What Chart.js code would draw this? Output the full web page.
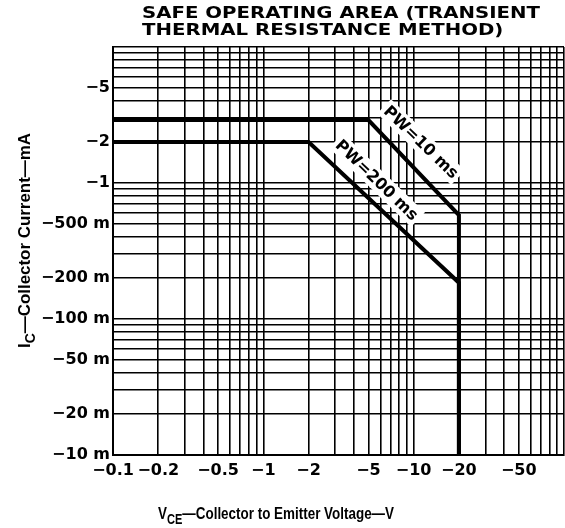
<!DOCTYPE html>
<html>
<head>
<meta charset="utf-8">
<title>Safe Operating Area</title>
<script src="https://cdn.jsdelivr.net/npm/chart.js@4"></script>
<style>
  body { margin: 0; background: #fff; }
  canvas { display: block; }
</style>
</head>
<body>
<canvas id="soaChart" width="565" height="528"></canvas>
<script>
// values are magnitudes (V and A), the minus signs only live in the tick labels
const pw10Volts = [0.1, 5, 20, 20];
const pw10Amps = [2.9, 2.9, 0.58, 0.01];

const pw200Volts = [0.1, 2, 20, 20];
const pw200Amps = [2, 2, 0.185, 0.01];

// grid lines of the log paper
const xGridValues = [0.1, 0.2, 0.3, 0.4, 0.5, 0.6, 0.7, 0.8, 0.9,
                     1, 2, 3, 4, 5, 6, 7, 8, 9,
                     10, 20, 30, 40, 50, 60, 70, 80, 90, 100];
const yGridValues = [0.01, 0.02, 0.03, 0.04, 0.05, 0.06, 0.07, 0.08, 0.09,
                     0.1, 0.2, 0.3, 0.4, 0.5, 0.6, 0.7, 0.8, 0.9,
                     1, 2, 3, 4, 5, 6, 7, 8, 9, 10];

// labelled ticks
const xLabelValues = [0.1, 0.2, 0.5, 1, 2, 5, 10, 20, 50];
const xLabelText = ['\u22120.1', '\u22120.2', '\u22120.5', '\u22121', '\u22122', '\u22125', '\u221210', '\u221220', '\u221250'];
const yLabelValues = [0.01, 0.02, 0.05, 0.1, 0.2, 0.5, 1, 2, 5];
const yLabelText = ['\u221210 m', '\u221220 m', '\u221250 m', '\u2212100 m', '\u2212200 m', '\u2212500 m', '\u22121', '\u22122', '\u22125'];

// where the curve names sit (data units)
const pw10LabelAt = { x: 11.2, y: 2.0 };
const pw200LabelAt = { x: 5.7, y: 1.05 };

const ink = '#000';
const fontFamily = '"DejaVu Sans", "Liberation Sans", sans-serif';
const titleFamily = '"Liberation Sans", Arial, sans-serif';

function findLabel(values, texts, v) {
    const i = values.findIndex(l => Math.abs(l - v) / l < 1e-6);
    return i >= 0 ? texts[i] : '';
}

function toPoints(xs, ys) {
    return xs.map((v, i) => ({ x: v, y: ys[i] }));
}

// draws a run of text pieces (some subscripted) fitted to a given width
function drawRich(ctx, parts, size, targetWidth) {
    const mainFont = 'bold ' + size + 'px ' + titleFamily;
    const subFont = 'bold ' + Math.round(size * 0.8) + 'px ' + titleFamily;
    let total = 0;
    parts.forEach(p => {
        ctx.font = p.sub ? subFont : mainFont;
        p.w = ctx.measureText(p.t).width;
        total += p.w;
    });
    const k = targetWidth ? targetWidth / total : 1;
    ctx.scale(k, 1);
    let x = 0;
    parts.forEach(p => {
        ctx.font = p.sub ? subFont : mainFont;
        ctx.fillText(p.t, x, p.sub ? size * 0.3 : 0);
        x += p.w;
    });
    return total * k;
}

const textPlugin = {
    id: 'textPlugin',
    afterDraw(chart) {
        const ctx = chart.ctx;
        const xs = chart.scales.x;
        const ys = chart.scales.y;
        ctx.save();
        ctx.fillStyle = ink;
        ctx.textBaseline = 'alphabetic';
        ctx.textAlign = 'left';

        // title, two lines, wide bold caps
        ctx.font = 'bold 15px ' + fontFamily;
        const line1 = 'SAFE OPERATING AREA (TRANSIENT';
        const line2 = 'THERMAL RESISTANCE METHOD)';
        const k = 398 / ctx.measureText(line1).width;
        ctx.save();
        ctx.translate(142, 18);
        ctx.scale(k, 1);
        ctx.fillText(line1, 0, 0);
        ctx.restore();
        ctx.save();
        ctx.translate(142, 35);
        ctx.scale(k, 1);
        ctx.fillText(line2, 0, 0);
        ctx.restore();

        // y axis title
        ctx.save();
        ctx.translate(30, 348);
        ctx.rotate(-Math.PI / 2);
        drawRich(ctx, [
            { t: 'I' }, { t: 'C', sub: true }, { t: '\u2014Collector Current\u2014mA' }
        ], 17, 215);
        ctx.restore();

        // x axis title
        ctx.save();
        ctx.translate(158, 519);
        drawRich(ctx, [
            { t: 'V' }, { t: 'CE', sub: true }, { t: '\u2014Collector to Emitter Voltage\u2014V' }
        ], 17, 236);
        ctx.restore();

        // curve names along the slopes, on a white patch
        [[pw10LabelAt, 'PW=10 ms'], [pw200LabelAt, 'PW=200 ms']].forEach(([at, txt]) => {
            const px = xs.getPixelForValue(at.x);
            const py = ys.getPixelForValue(at.y);
            ctx.save();
            ctx.translate(px, py);
            ctx.rotate(44 * Math.PI / 180);
            ctx.font = 'bold 16px ' + fontFamily;
            const w = ctx.measureText(txt).width;
            ctx.fillStyle = '#fff';
            ctx.fillRect(-w / 2 - 3, -10, w + 6, 20);
            ctx.fillStyle = ink;
            ctx.textAlign = 'center';
            ctx.textBaseline = 'middle';
            ctx.fillText(txt, 0, 1);
            ctx.restore();
        });

        ctx.restore();
    }
};

Chart.defaults.font.family = fontFamily;
Chart.defaults.color = ink;

const soaCtx = document.getElementById('soaChart').getContext('2d');
new Chart(soaCtx, {
    type: 'scatter',
    data: {
        datasets: [
            {
                label: 'PW=10 ms',
                data: toPoints(pw10Volts, pw10Amps),
                showLine: true,
                borderColor: ink,
                borderWidth: 4,
                pointRadius: 0,
                tension: 0
            },
            {
                label: 'PW=200 ms',
                data: toPoints(pw200Volts, pw200Amps),
                showLine: true,
                borderColor: ink,
                borderWidth: 4,
                pointRadius: 0,
                tension: 0
            }
        ]
    },
    options: {
        responsive: false,
        animation: false,
        layout: { padding: { top: 47, right: 1, left: 0, bottom: 0 } },
        plugins: {
            legend: { display: false },
            tooltip: { enabled: false },
            title: { display: false }
        },
        scales: {
            x: {
                type: 'logarithmic',
                min: 0.1,
                max: 100,
                afterBuildTicks: s => { s.ticks = xGridValues.map(v => ({ value: v })); },
                afterFit: s => { s.height = 73; s.paddingRight = 0; },
                grid: { color: ink, lineWidth: 1.6, drawTicks: false },
                border: { color: ink, width: 2 },
                ticks: {
                    autoSkip: false,
                    maxRotation: 0,
                    padding: 6,
                    color: ink,
                    font: { size: 16, weight: 'bold' },
                    callback: v => findLabel(xLabelValues, xLabelText, v)
                }
            },
            y: {
                type: 'logarithmic',
                min: 0.01,
                max: 10,
                afterBuildTicks: s => { s.ticks = yGridValues.map(v => ({ value: v })); },
                afterFit: s => { s.width = 113; },
                grid: { color: ink, lineWidth: 1.6, drawTicks: false },
                border: { color: ink, width: 2 },
                ticks: {
                    autoSkip: false,
                    padding: 3,
                    color: ink,
                    font: { size: 16, weight: 'bold' },
                    callback: v => findLabel(yLabelValues, yLabelText, v)
                }
            }
        }
    },
    plugins: [textPlugin]
});
</script>
</body>
</html>
